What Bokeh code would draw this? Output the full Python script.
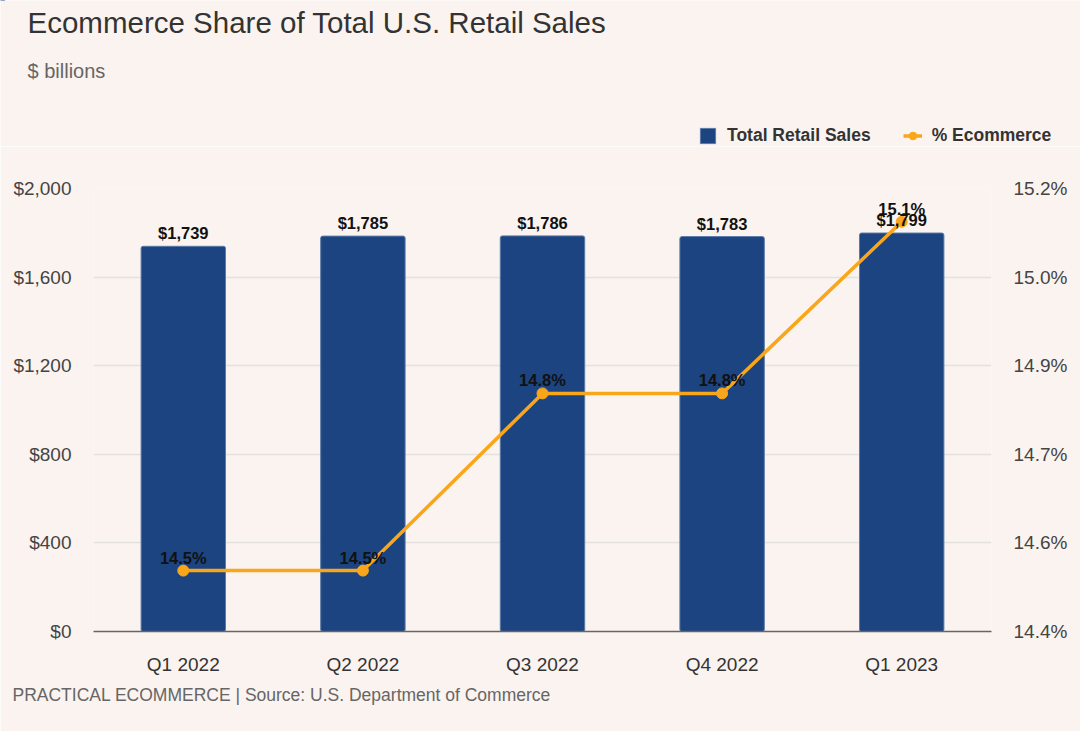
from bokeh.plotting import figure
from bokeh.models import (ColumnDataSource, FactorRange, Range1d, LinearAxis, FixedTicker,
                          NumeralTickFormatter, PrintfTickFormatter, Legend, LegendItem,
                          Title, Label)
from bokeh.core.properties import value
from bokeh.embed import file_html
from bokeh.resources import INLINE

quarters = ["Q1 2022", "Q2 2022", "Q3 2022", "Q4 2022", "Q1 2023"]
retail_sales = [1739, 1785, 1786, 1783, 1799]
pct_ecommerce = [14.51, 14.51, 14.83, 14.83, 15.14]
left_ticks = [0, 400, 800, 1200, 1600, 2000]
right_ticks = [14.4, 14.56, 14.72, 14.88, 15.04, 15.2]

BG = "#fbf3ef"
NAVY = "#1c4480"
BAR_EDGE = "#5a7aa8"
ORANGE = "#faa61a"
FONT = "Liberation Sans"
W = 1080
HEAD_H = 146
MAIN_H = 585

src = ColumnDataSource(dict(
    q=quarters,
    idx=list(range(len(quarters))),
    sales=retail_sales,
    pct=pct_ecommerce,
    sales_lbl=["${:,}".format(v) for v in retail_sales],
    pct_lbl=["{:.1f}%".format(v) for v in pct_ecommerce],
))

# ---------------- header: title, subtitle, legend ----------------
head = figure(width=W, height=HEAD_H, x_range=Range1d(0, W), y_range=Range1d(HEAD_H, 0),
              x_axis_location=None, y_axis_location=None, output_backend="svg",
              toolbar_location=None, min_border=0)
head.background_fill_color = BG
head.border_fill_color = BG
head.outline_line_color = None
head.grid.grid_line_color = None
# a range far away from the header's view, so the legend proxies are not visible
head.extra_y_ranges = {"off": Range1d(-20000, -10000)}

head.add_layout(Label(x=27, y=22, text="Ecommerce Share of Total U.S. Retail Sales",
                      text_font=FONT, text_font_size="29.5px", text_color="#333333",
                      text_baseline="middle"))
head.add_layout(Label(x=27, y=70, text="$ billions", text_font=FONT, text_font_size="20px",
                      text_color="#666666", text_baseline="middle"))

lg_bar = head.vbar(x="idx", top="sales", width=0.47, source=src, y_range_name="off",
                   fill_color=NAVY, line_color=BAR_EDGE, line_width=1)
lg_line = head.line(x="idx", y="pct", source=src, y_range_name="off",
                    line_color=ORANGE, line_width=3.5)
lg_pt = head.scatter(x="idx", y="pct", source=src, y_range_name="off", size=11,
                     fill_color=ORANGE, line_color=ORANGE)
legend = Legend(items=[LegendItem(label="Total Retail Sales", renderers=[lg_bar]),
                       LegendItem(label="% Ecommerce", renderers=[lg_line, lg_pt])],
                orientation="horizontal", location=(698, 0),
                background_fill_alpha=0, border_line_color=None,
                label_text_font=FONT, label_text_font_size="17.5px", label_text_font_style="bold",
                label_text_color="#333333", glyph_width=19, glyph_height=19,
                label_standoff=10, spacing=32, padding=0, margin=0)
head.add_layout(legend, "center")

# ---------------- main chart ----------------
p = figure(width=W, height=MAIN_H, x_range=FactorRange(*quarters), y_range=Range1d(0, 2000),
           output_backend="svg", toolbar_location=None,
           min_border_left=93, min_border_right=89, min_border_top=42, min_border_bottom=100)
p.background_fill_color = BG
p.border_fill_color = BG
p.outline_line_color = None
p.x_range.range_padding = 0

p.extra_y_ranges = {"pct": Range1d(14.4, 15.2)}

p.vbar(x="q", top="sales", width=0.47, source=src, fill_color=NAVY,
       line_color=BAR_EDGE, line_width=1, border_radius=2)
p.line(x="q", y="pct", source=src, y_range_name="pct", line_color=ORANGE, line_width=3.5)
p.scatter(x="q", y="pct", source=src, y_range_name="pct", size=11,
          fill_color=ORANGE, line_color=ORANGE)

p.text(x="q", y="sales", text="sales_lbl", source=src, text_align="center",
       text_baseline="bottom", y_offset=-4, text_font=value(FONT), text_font_size="16.5px",
       text_font_style="bold", text_color="#111111")
p.text(x="q", y="pct", text="pct_lbl", source=src, y_range_name="pct", text_align="center",
       text_baseline="bottom", y_offset=-4, text_font=value(FONT), text_font_size="16.5px",
       text_font_style="bold", text_color="#111111")

p.yaxis.ticker = FixedTicker(ticks=left_ticks)
p.yaxis.formatter = NumeralTickFormatter(format="$0,0")
ya = p.yaxis[0]
right = LinearAxis(y_range_name="pct", ticker=FixedTicker(ticks=right_ticks),
                   formatter=PrintfTickFormatter(format="%.1f%%"))
p.add_layout(right, "right")
for ax in (ya, right):
    ax.axis_line_color = None
    ax.major_tick_line_color = None
    ax.minor_tick_line_color = None
    ax.major_tick_out = 0
    ax.major_tick_in = 0
    ax.minor_tick_out = 0
    ax.major_label_text_font = FONT
    ax.major_label_text_font_size = "19px"
    ax.major_label_text_color = "#444444"
    ax.major_label_standoff = 22

xa = p.xaxis[0]
xa.axis_line_color = "#666666"
xa.axis_line_width = 1.5
xa.major_tick_line_color = None
xa.minor_tick_line_color = None
xa.major_tick_out = 0
xa.major_tick_in = 0
xa.major_label_text_font = FONT
xa.major_label_text_font_size = "19px"
xa.major_label_text_color = "#333333"
xa.major_label_standoff = 22

p.xgrid.grid_line_color = None
p.ygrid.grid_line_color = "#e4e2e0"
p.ygrid.grid_line_width = 1.5

p.add_layout(Title(text="PRACTICAL ECOMMERCE | Source: U.S. Department of Commerce",
                   text_font=FONT, text_font_size="17.5px", text_font_style="normal",
                   text_color="#666666", align="left", offset=-81), "below")

open("out.html", "w").write(file_html([head, p], INLINE))
